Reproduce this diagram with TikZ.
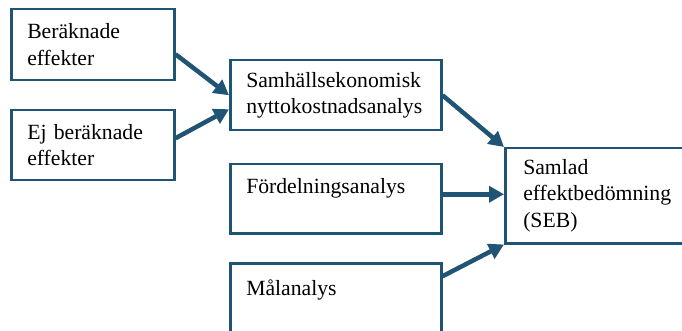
\documentclass[tikz,border=0pt]{standalone}
\usepackage{fontspec}
\setmainfont{Liberation Serif}
\usepackage{tikz}
\usetikzlibrary{arrows.meta}
\definecolor{sebblue}{RGB}{32,84,116}
\tikzset{
  box/.style  ={draw=sebblue,line width=2.5pt,anchor=north west,align=left,inner xsep=16pt,inner ysep=0pt},
  flow/.style ={-{Triangle[length=15pt,width=16pt]},line width=4.5pt,draw=sebblue},
}

\begin{document}
\begin{tikzpicture}[x=1pt,y=-1pt,font=\fontsize{21.7}{26.5}\selectfont]
  \useasboundingbox (0,0) rectangle (682,331);
  \node[box,text width=131pt,minimum height=71pt] (ber) at (10,8) {Beräknade\\effekter};
  \node[box,text width=131pt,minimum height=70pt] (ejber) at (10,109) {Ej beräknade\\effekter};
  \node[box,text width=179pt,minimum height=70pt] (snka) at (229,59) {Samhällsekonomisk\\nyttokostnadsanalys};
  \node[box,text width=179pt,minimum height=69pt] (ford) at (229,163) {Fördelningsanalys\\~};
  \node[box,text width=179pt,minimum height=75pt] (mal) at (229,262) {Målanalys\\~};
  \node[box,inner xsep=18pt,text width=175pt,minimum height=95pt] (seb) at (504,147) {Samlad\\effektbedömning\\(SEB)};
  \draw[flow] ([yshift=-9.5pt]ber.east) -- (snka.west);
  \draw[flow] ([yshift=7pt]ejber.east) -- ([yshift=-14pt]snka.west);
  \draw[flow] (snka.east) -- (seb.north west);
  \draw[flow] ([yshift=1.5pt]seb.west -| ford.east) -- ([yshift=1.5pt]seb.west);
  \draw[flow] ([yshift=24.5pt]mal.east) -- (seb.south west);
\end{tikzpicture}
\end{document}
